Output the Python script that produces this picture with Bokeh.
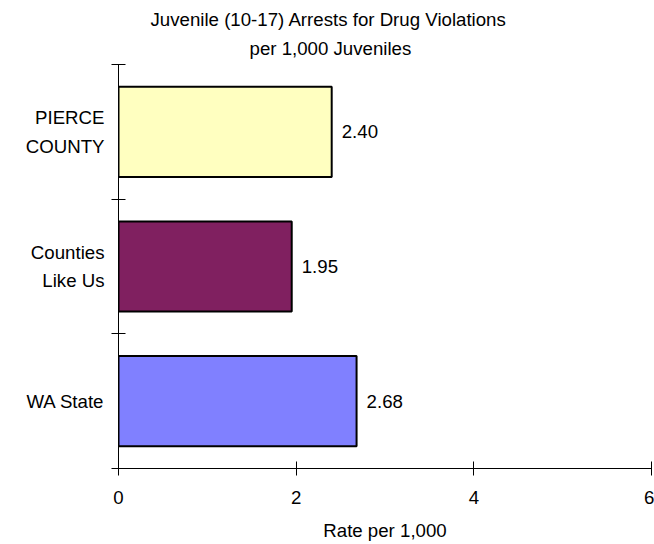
from bokeh.plotting import figure
from bokeh.models import Range1d, FixedTicker, ColumnDataSource, Title
from bokeh.core.properties import value
from bokeh.embed import file_html
from bokeh.resources import INLINE

# ---- data ----
categories = ["PIERCE\nCOUNTY", "Counties\nLike Us", "WA State"]
rates = [2.40, 1.95, 2.68]
bar_colors = ["#FFFFC0", "#802060", "#8080FF"]
x_ticks = [0, 2, 4, 6]
title_lines = ["Juvenile (10-17) Arrests for Drug Violations", "per 1,000 Juveniles"]
x_label = "Rate per 1,000"

FONT = "Liberation Sans"
FS = "14pt"

n = len(categories)
ys = [n - i - 0.5 for i in range(n)]
src = ColumnDataSource(dict(
    cat=categories, rate=rates, color=bar_colors, y=ys,
    lbl=["{:.2f}".format(v) for v in rates],
))

p = figure(width=654, height=544, output_backend="svg", toolbar_location=None,
           x_range=Range1d(0, 6), y_range=Range1d(0, n),
           min_border_left=118, min_border_right=3, min_border_bottom=76,
           min_border_top=64)

p.title.visible = False
# second line first (closest to the frame), then first line above it
p.add_layout(Title(text=title_lines[1], align="left", offset=131, standoff=11,
                   text_font=FONT, text_font_size=FS, text_font_style="normal",
                   text_color="black"), "above")
p.add_layout(Title(text=title_lines[0], align="left", offset=32, standoff=2,
                   text_font=FONT, text_font_size=FS, text_font_style="normal",
                   text_color="black"), "above")

p.hbar(y="y", left=0, right="rate", height=0.67, source=src,
       fill_color="color", line_color="black", line_width=2)

p.text(x="rate", y="y", text="lbl", source=src, x_offset=10,
       text_baseline="middle", text_align="left",
       text_font=value(FONT), text_font_size=value(FS), text_color="black")

p.xgrid.visible = False
p.ygrid.visible = False
p.outline_line_color = None
p.background_fill_color = "white"
p.border_fill_color = "white"

xa = p.xaxis[0]
xa.ticker = FixedTicker(ticks=x_ticks)
xa.minor_tick_line_color = None
xa.major_tick_in = 7
xa.major_tick_out = 7
xa.major_label_standoff = 15
xa.major_label_text_font = FONT
xa.major_label_text_font_size = FS
xa.major_label_text_color = "black"
xa.axis_label = x_label
xa.axis_label_text_font = FONT
xa.axis_label_text_font_size = FS
xa.axis_label_text_font_style = "normal"
xa.axis_label_text_color = "black"
xa.axis_label_standoff = 13
xa.axis_line_color = "black"
xa.major_tick_line_color = "black"

ya = p.yaxis[0]
ya.ticker = FixedTicker(ticks=ys, minor_ticks=list(range(n + 1)))
ya.major_label_overrides = {y: c for y, c in zip(ys, categories)}
ya.major_tick_line_color = None
ya.major_tick_in = 0
ya.major_tick_out = 0
ya.minor_tick_line_color = "black"
ya.minor_tick_in = 7
ya.minor_tick_out = 7
ya.major_label_standoff = 7
ya.major_label_text_font = FONT
ya.major_label_text_font_size = FS
ya.major_label_text_color = "black"
ya.major_label_text_line_height = 1.35
ya.axis_line_color = "black"

open("out.html", "w").write(file_html(p, INLINE))
